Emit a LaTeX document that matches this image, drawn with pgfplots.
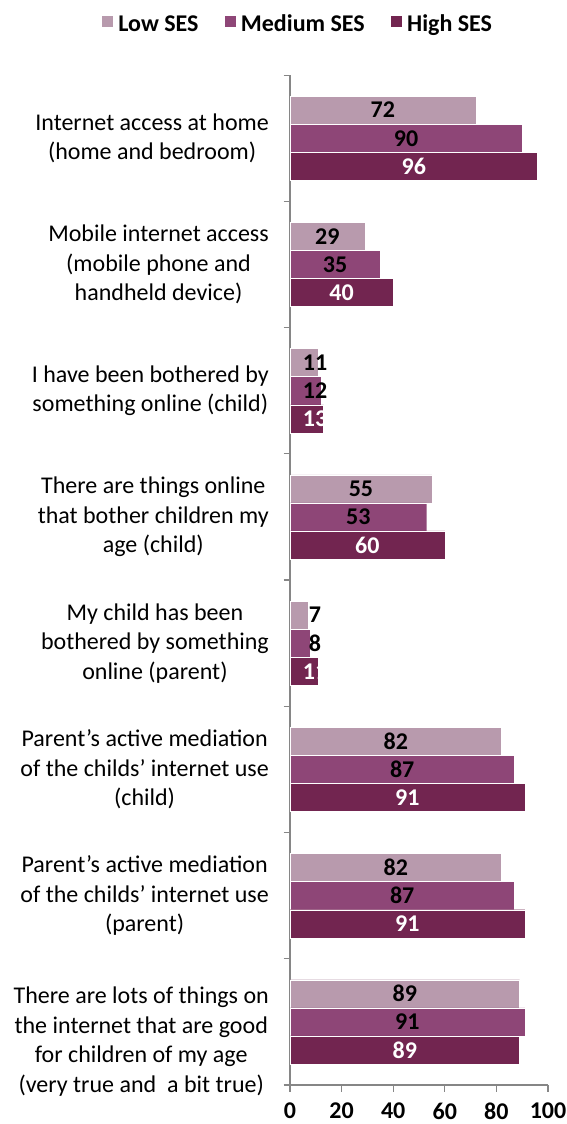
\documentclass[border=0pt]{standalone}
\usepackage{pgfplots}
\usepackage{pgfplotstable}
\pgfplotsset{compat=1.18}
\usepackage{fontspec}
\setmainfont{Carlito}
\definecolor{lowc}{RGB}{184,154,173}
\definecolor{medc}{RGB}{142,70,119}
\definecolor{highc}{RGB}{114,37,80}
\definecolor{axgray}{RGB}{134,134,134}
\newcommand{\fs}{\fontsize{24}{29.5}\selectfont}
\pgfplotstableread{
y v
0 72
1 29
2 11
3 55
4 7
5 82
6 82
7 89
}\lowtab
\pgfplotstableread{
y v
0 90
1 35
2 12
3 53
4 8
5 87
6 87
7 91
}\medtab
\pgfplotstableread{
y v
0 96
1 40
2 13
3 60
4 11
5 91
6 91
7 89
}\hightab
\begin{document}
\begin{tikzpicture}
\useasboundingbox (0,0) rectangle (567pt,1124pt);
\begin{axis}[
  at={(290pt,39pt)}, anchor=south west,
  scale only axis, width=258pt, height=1010pt,
  xmin=0, xmax=100, ymin=-0.5, ymax=7.5, y dir=reverse,
  axis x line*=bottom, axis y line*=left,
  axis line style={draw=axgray, line width=1.2pt},
  every tick/.style={draw=axgray, line width=1.2pt},
  tick align=outside, major tick length=6.5pt,
  xtick={0,20,40,60,80,100},
  xticklabel style={font=\bfseries\fs, yshift=-8pt},
  /pgf/number format/assume math mode=true,
  ytick={-0.5,0.5,...,7.5}, yticklabels={},
  extra y ticks={0,1,2,3,4,5,6,7},
  extra y tick style={tick style={draw=none}, major tick length=0pt},
  extra y tick labels={
    {Internet access at home\\(home and bedroom)},
    {Mobile internet access\\(mobile phone and\\handheld device)},
    {I have been bothered by\\something online (child)},
    {There are things online\\that bother children my\\age (child)},
    {My child has been\\bothered by something\\online (parent)},
    {Parent's active mediation\\of the childs' internet use\\(child)},
    {Parent's active mediation\\of the childs' internet use\\(parent)},
    {\mbox{}\\[26.5pt]There are lots of things on\\the internet that are good\\for children of my age\\(very true and~ a bit true)}},
  yticklabel style={font=\fs, align=center, inner sep=0pt, xshift=-21pt},
  clip=false,
  legend style={draw=none, at={(0.035,1.0505)}, anchor=center, legend columns=3,
    font=\bfseries\fs, nodes={inner sep=5pt},
    /tikz/every even column/.append style={column sep=20pt}},
  legend image code/.code={\fill[#1] (0pt,-3pt) rectangle (12pt,9pt);},
  visualization depends on={\thisrow{v} \as \val},
  nodes near coords,
  nodes near coords style={anchor=center, font=\bfseries\fs,
    xshift={max(1.29*\val,25)-2.58*\val}},
]
\addplot[xbar, bar width=0.2226, bar shift=-0.2226, fill=lowc, draw=white, line width=0.4pt,
  point meta=explicit, nodes near coords style={text=black, yshift=28.1pt}]
  table[x=v, y=y, meta=v] {\lowtab};
\addplot[xbar, bar width=0.2226, bar shift=0, fill=medc, draw=white, line width=0.4pt,
  point meta=explicit, nodes near coords style={text=black}]
  table[x=v, y=y, meta=v] {\medtab};
\addplot[xbar, bar width=0.2226, bar shift=0.2226, fill=highc, draw=white, line width=0.4pt,
  point meta=explicit, nodes near coords style={text=white, yshift=-28.1pt}]
  table[x=v, y=y, meta=v] {\hightab};
\legend{Low SES, Medium SES, High SES}
\end{axis}
\end{tikzpicture}
\end{document}
